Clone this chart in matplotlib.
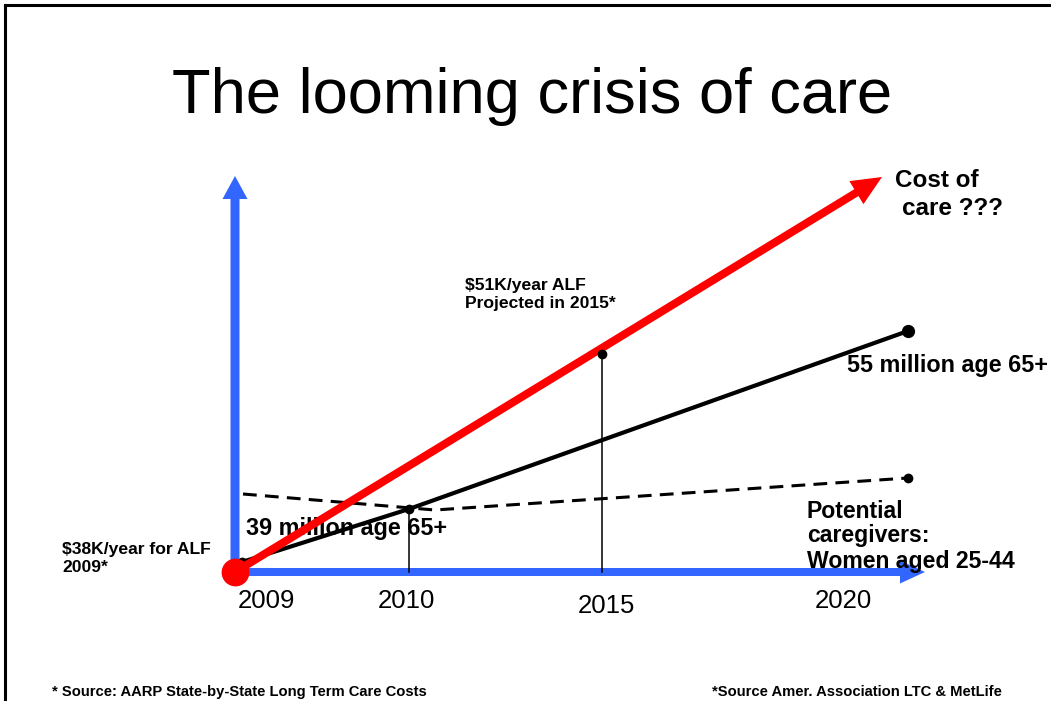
import matplotlib.pyplot as plt
from matplotlib.patches import FancyArrow

#### data (schematic units, origin at the axes corner) ####
years = ['2009', '2010', '2015', '2020']
year_x = [31, 171, 371, 608]

# cost of care line (red arrow) and the 2015 projection point
cost_x = [0, 647]
cost_y = [0, 395]
cost_2015 = (367, 218)

# 65+ population (solid black)
pop_x = [7, 174, 673]
pop_y = [10, 63, 241]

# potential caregivers, women aged 25-44 (dashed)
care_x = [8, 200, 673]
care_y = [78, 62, 94]

blue = '#3366ff'
red = '#ff0000'
font = 'Liberation Sans'

fig = plt.figure(figsize=(10.51, 7.01), dpi=100)
ax = fig.add_axes([0, 0, 1, 1])
ax.set_xlim(-235, 816)
ax.set_ylim(-129, 572)
ax.axis('off')

# slide frame (top and left edges)
ax.plot([-230, 816], [567, 567], color='black', lw=2.2, clip_on=False)
ax.plot([-230, -230], [-129, 567], color='black', lw=2.2, clip_on=False)

# blue axes arrows
ax.add_patch(FancyArrow(0, 0, 0, 396, width=9, head_width=25, head_length=23,
                        length_includes_head=True, color=blue, lw=0, zorder=2))
ax.add_patch(FancyArrow(0, 0, 690, 0, width=8, head_width=23, head_length=25,
                        length_includes_head=True, color=blue, lw=0, zorder=2))

# drop lines to the x axis
ax.plot([pop_x[1], pop_x[1]], [0, pop_y[1]], color='black', lw=1.1, zorder=3)
ax.plot([cost_2015[0], cost_2015[0]], [0, cost_2015[1]], color='black', lw=1.1, zorder=3)

# caregivers
ln, = ax.plot(care_x, care_y, color='black', lw=2.2, zorder=4)
ln.set_dashes((4.5, 2.7))
ax.plot(care_x[-1], care_y[-1], 'o', color='black', ms=6, zorder=4)

# population
ax.plot(pop_x, pop_y, color='black', lw=3, zorder=4)
ax.plot(pop_x, pop_y, 'o', color='black', ms=6, zorder=4)
ax.plot(pop_x[-1], pop_y[-1], 'o', color='black', ms=8.5, zorder=4)

# cost of care
ax.add_patch(FancyArrow(cost_x[0], cost_y[0], cost_x[1], cost_y[1], width=8,
                        head_width=27, head_length=30, length_includes_head=True,
                        color=red, lw=0, zorder=5))
ax.plot(*cost_2015, 'o', color='black', ms=6, zorder=6)
ax.plot(0, 0, 'o', color=red, ms=19, zorder=6)

# title
ax.text(297, 459, 'The looming crisis of care', ha='center', va='baseline',
        fontsize=45.5, family=font)

# year labels
for x, y in zip(year_x, years):
    yb = -41 if y == '2015' else -36
    ax.text(x, yb, y, ha='center', va='baseline', fontsize=18.5, family=font)

bold = dict(family=font, weight='bold', va='baseline', zorder=3)
ax.text(660, 385, 'Cost of', fontsize=17.5, **bold)
ax.text(667, 357, 'care ???', fontsize=17.5, **bold)
ax.text(230, 282, '$51K/year ALF', fontsize=12.6, **bold)
ax.text(230, 264, 'Projected in 2015*', fontsize=12.6, **bold)
ax.text(612, 200, '55 million age 65+', fontsize=16.8, **bold)
ax.text(11, 37, '39 million age 65+', fontsize=16.8, **bold)
ax.text(572, 54, 'Potential', fontsize=16.6, **bold)
ax.text(572, 30, 'caregivers:', fontsize=16.6, **bold)
ax.text(572, 4, 'Women aged 25-44', fontsize=16.6, **bold)
ax.text(-173, 18, '$38K/year for ALF', fontsize=12.6, **bold)
ax.text(-173, 0, '2009*', fontsize=12.6, **bold)

# footnotes
note = dict(family=['Liberation Sans Narrow', font], weight='bold', va='baseline', fontsize=10.6)
ax.text(-183, -124, '* Source: AARP State-by-State Long Term Care Costs', **note)
ax.text(477, -124, '*Source Amer. Association LTC & MetLife', **note)

fig.savefig('out.png', dpi=100)
